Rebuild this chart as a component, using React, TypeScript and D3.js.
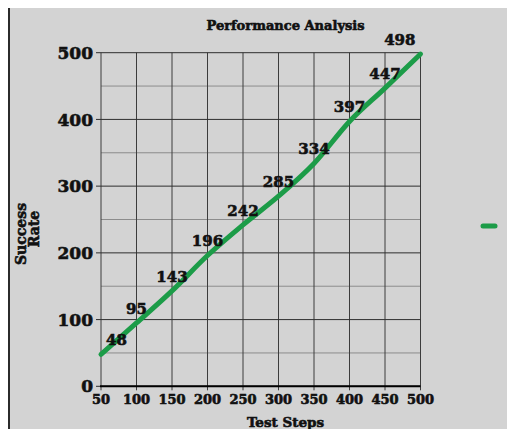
import React from "react";
import * as d3 from "d3";

const steps = [50, 100, 150, 200, 250, 300, 350, 400, 450, 500];
const successRate = [48, 95, 143, 196, 242, 285, 334, 397, 447, 498];
const xTicks = [50, 100, 150, 200, 250, 300, 350, 400, 450, 500];
const yTicks = [0, 100, 200, 300, 400, 500];
const yMinorTicks = [50, 150, 250, 350, 450];
const titleText = "Performance Analysis";
const xLabel = "Test Steps";
const yLabelLines = ["Success", "Rate"];

const W = 499;
const H = 421;
const FONT = "'DejaVu Serif', serif";
const GREEN = "#1c9c48";
const INK = "#111";

export default function App() {
  const x = d3.scaleLinear().domain([50, 500]).range([93, 412.5]);
  const y = d3.scaleLinear().domain([0, 500]).range([378.3, 44.7]);
  const data = steps.map((s, i) => ({ s, v: successRate[i] }));
  const line = d3
    .line<{ s: number; v: number }>()
    .x((d) => x(d.s))
    .y((d) => y(d.v))
    .curve(d3.curveMonotoneX);
  const [x0, x1] = x.range();
  const [yb, yt] = y.range();
  const labelFs = 15;
  const charW = labelFs * 0.696;
  const heavy = { stroke: INK, strokeWidth: 0.6 } as const;

  return (
    <div style={{ width: 491, height: 413 }}>
      <svg width={W} height={H} style={{ position: "fixed", left: 8, top: 8, display: "block" }} fontFamily={FONT}>
        <rect x={0} y={0} width={W} height={H} fill="#d3d3d3" />
        <line x1={1} x2={1} y1={0} y2={H} stroke="#2b2b2b" strokeWidth={2} />
        {yMinorTicks.map((t) => (
          <line key={"m" + t} x1={x0} x2={x1} y1={y(t)} y2={y(t)} stroke="#8c8c8c" strokeWidth={1} />
        ))}
        {xTicks.map((t) => (
          <line key={"v" + t} x1={x(t)} x2={x(t)} y1={yt} y2={yb + 4} stroke="#3c3c3c" strokeWidth={1} />
        ))}
        {yTicks.map((t) => (
          <line key={"h" + t} x1={x0 - 5} x2={x1} y1={y(t)} y2={y(t)} stroke="#2e2e2e" strokeWidth={1} />
        ))}
        <line x1={x0 - 1} x2={x1} y1={yb} y2={yb} stroke="#000" strokeWidth={2} />
        {yTicks.map((t) => (
          <text key={"yl" + t} x={x0 - 8} y={y(t)} dy="0.36em" textAnchor="end" fontSize={17} fontWeight="bold" fill={INK} {...heavy}>
            {t}
          </text>
        ))}
        {xTicks.map((t) => (
          <text key={"xl" + t} x={x(t)} y={yb + 18} textAnchor="middle" fontSize={13} fontWeight="bold" fill={INK} {...heavy}>
            {t}
          </text>
        ))}
        <path d={line(data) || ""} fill="none" stroke={GREEN} strokeWidth={5} strokeLinecap="round" strokeLinejoin="round" />
        {data.map((d) => {
          const w = String(d.v).length * charW;
          const cx = Math.max(x0 + 5 + w / 2, Math.min(x1 - 5 - w / 2, x(d.s)));
          return (
            <text key={"dl" + d.s} x={cx} y={y(d.v) - 14.5} dy="0.36em" textAnchor="middle" fontSize={labelFs} fontWeight="bold" fill={INK} {...heavy}>
              {d.v}
            </text>
          );
        })}
        <text x={277.5} y={17.6} dy="0.36em" textAnchor="middle" fontSize={13} fontWeight="bold" fill={INK} {...heavy}>
          {titleText}
        </text>
        <text x={277.5} y={414} dy="0.36em" textAnchor="middle" fontSize={13.5} fontWeight="bold" fill={INK} {...heavy}>
          {xLabel}
        </text>
        <text transform={`translate(18,226) rotate(-90)`} textAnchor="middle" fontSize={14} fontWeight="bold" fill={INK} {...heavy}>
          {yLabelLines[0]}
        </text>
        <text transform={`translate(31,221) rotate(-90)`} textAnchor="middle" fontSize={14} fontWeight="bold" fill={INK} {...heavy}>
          {yLabelLines[1]}
        </text>
        <line x1={475} x2={487} y1={218} y2={218} stroke={GREEN} strokeWidth={5} strokeLinecap="round" />
      </svg>
    </div>
  );
}
